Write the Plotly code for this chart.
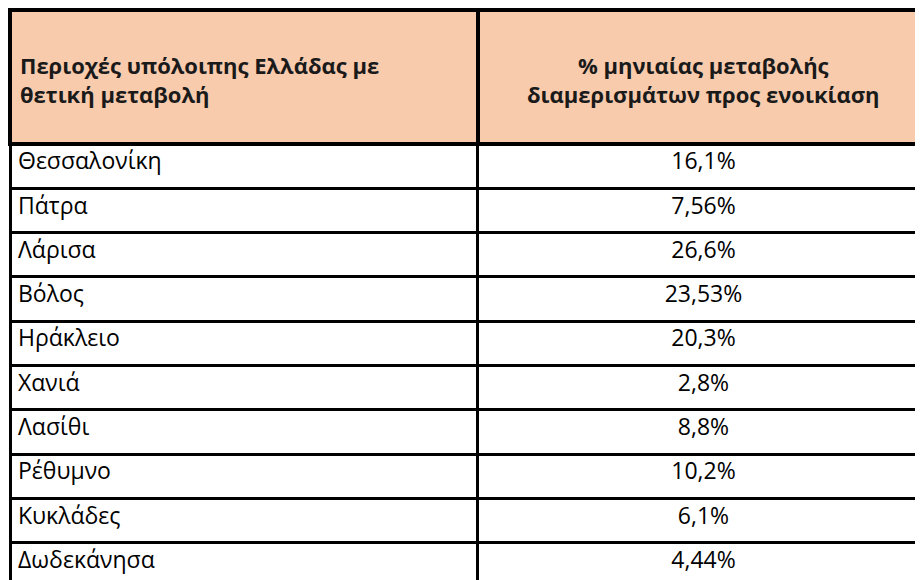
import plotly.graph_objects as go

header = ["Περιοχές υπόλοιπης Ελλάδας με<br>θετική μεταβολή",
          "% μηνιαίας μεταβολής<br>διαμερισμάτων προς ενοικίαση"]
regions = ["Θεσσαλονίκη", "Πάτρα", "Λάρισα", "Βόλος", "Ηράκλειο",
           "Χανιά", "Λασίθι", "Ρέθυμνο", "Κυκλάδες", "Δωδεκάνησα"]
changes = ["16,1%", "7,56%", "26,6%", "23,53%", "20,3%",
           "2,8%", "8,8%", "10,2%", "6,1%", "4,44%"]

fig = go.Figure(go.Table(
    columnwidth=[470, 453],
    header=dict(values=["", ""],
                fill_color="#F8CBAD", line=dict(color="black", width=4),
                height=134),
    cells=dict(values=[regions, changes],
               fill_color="white", line=dict(color="black", width=3),
               align=["left", "center"], height=44.3,
               font=dict(family="Open Sans", size=23, color="black")),
    domain=dict(x=[0, 1], y=[0, 1]),
))

# header text as annotations so it can be vertically centred
fig.add_annotation(text="<b>%s</b>" % header[0], xref="paper", yref="paper",
                   x=8 / 923, y=1 - 70 / 580, xanchor="left", yanchor="middle",
                   align="left", showarrow=False,
                   font=dict(family="Open Sans", size=22, color="#1a1a1a"))
fig.add_annotation(text="<b>%s</b>" % header[1], xref="paper", yref="paper",
                   x=(470 + 923) / 2 / 923, y=1 - 70 / 580, xanchor="center",
                   yanchor="middle", align="center", showarrow=False,
                   font=dict(family="Open Sans", size=22, color="#1a1a1a"))

fig.update_layout(width=923, height=580, margin=dict(l=2, r=2, t=2, b=2),
                  paper_bgcolor="white")
fig.write_html("out.html")
